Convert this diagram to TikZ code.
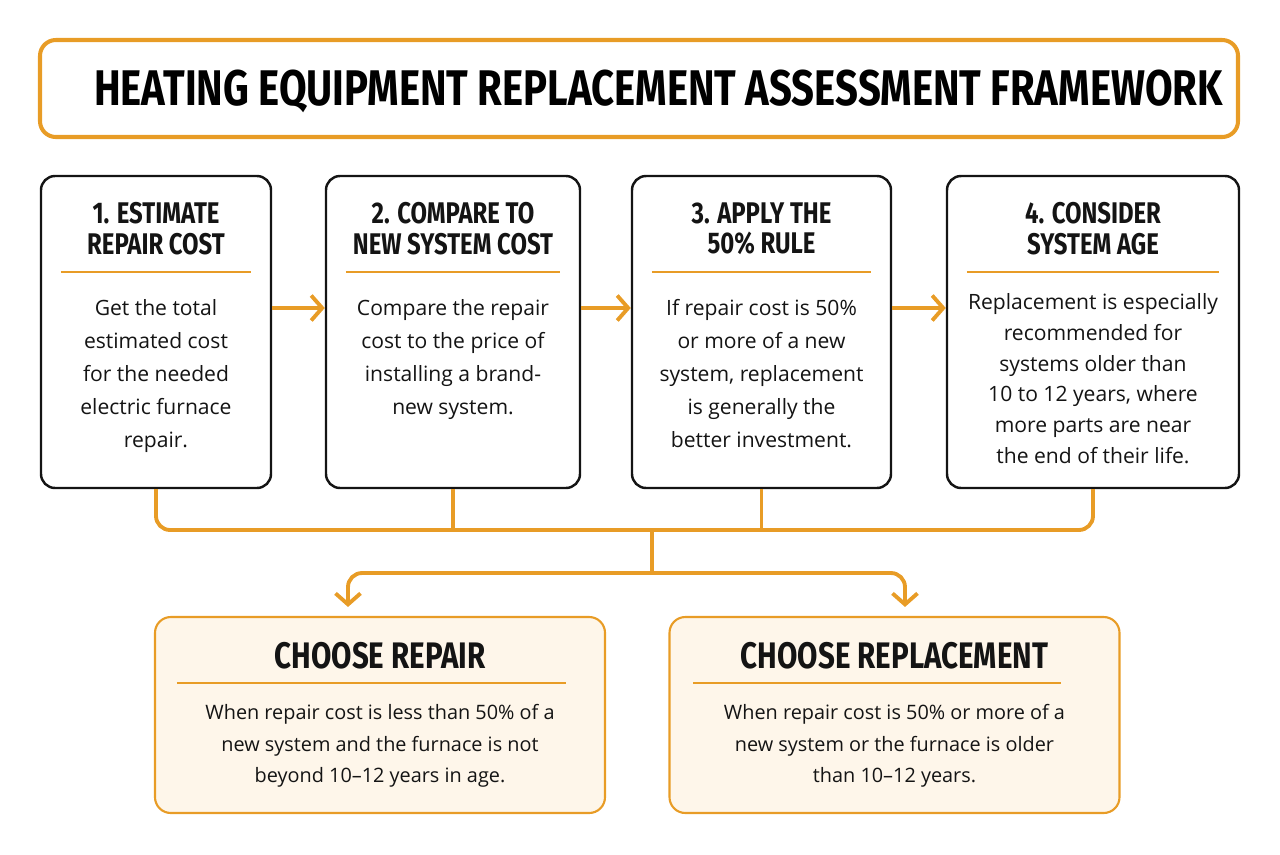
\documentclass[tikz,border=0pt]{standalone}
\usepackage{fontspec}
\usetikzlibrary{arrows.meta,positioning,calc}
\newfontfamily\headfont[FakeStretch=0.8]{Fira Sans}
\newfontfamily\bodyfont{Open Sans}
\definecolor{amber}{RGB}{232,156,38}
\definecolor{cream}{RGB}{254,246,234}
\definecolor{ink}{RGB}{20,20,20}

\begin{document}
\begin{tikzpicture}[
  titlebox/.style={draw=amber, line width=2.3pt, rounded corners=9pt,
                   minimum width=23.96cm, minimum height=1.94cm},
  stepbox/.style={draw=ink, line width=1.4pt, fill=white, rounded corners=8pt,
                  minimum height=6.24cm},
  choicebox/.style={draw=amber, line width=1.2pt, fill=cream, rounded corners=9pt,
                    minimum width=9cm, minimum height=3.92cm},
  headtxt/.style={font=\headfont\bfseries\fontsize{17}{17.6}\selectfont,
                  text=ink, align=center, inner sep=0pt},
  bodytxt/.style={font=\bodyfont\fontsize{12}{18.8}\selectfont,
                  text=ink, align=center, inner sep=0pt, anchor=north},
  divider/.style={draw=amber, line width=1.1pt},
  flow/.style={draw=amber, line width=2.2pt},
  >={Straight Barb[length=2.2mm,width=5mm]}
]
\useasboundingbox (0,0) rectangle (25.6,-17.08);

% title
\node[titlebox] (title) at (12.78,-1.77) {};
\node[font=\headfont\bfseries\fontsize{28.5}{30}\selectfont, text=black] (ttext)
  at (13.17,-1.82) {HEATING EQUIPMENT REPLACEMENT ASSESSMENT FRAMEWORK};

% the four steps
\node[stepbox, minimum width=4.6cm]  (s1) at (3.12,-6.64) {};
\node[stepbox, minimum width=5.08cm] (s2) at (9.06,-6.64) {};
\node[stepbox, minimum width=5.18cm] (s3) at (15.23,-6.64) {};
\node[stepbox, minimum width=5.84cm] (s4) at (21.86,-6.64) {};

\node[headtxt] (h1) at ([yshift=-1.08cm]s1.north) {1. ESTIMATE\\REPAIR COST};
\node[headtxt] (h2) at ([yshift=-1.08cm]s2.north) {2. COMPARE TO\\NEW SYSTEM COST};
\node[headtxt] (h3) at ([yshift=-1.08cm]s3.north) {3. APPLY THE\\50\% RULE};
\node[headtxt] (h4) at ([yshift=-1.08cm]s4.north) {4. CONSIDER\\SYSTEM AGE};

\foreach \s in {s1,s2,s3,s4}
  \draw[divider] ([xshift=0.42cm,yshift=-1.94cm]\s.north west)
              -- ([xshift=-0.42cm,yshift=-1.94cm]\s.north east);

\node[bodytxt] (b1) at ([yshift=-2.48cm]s1.north)
  {Get the total\\estimated cost\\for the needed\\electric furnace\\repair.};
\node[bodytxt] (b2) at ([yshift=-2.48cm]s2.north)
  {Compare the repair\\cost to the price of\\installing a brand-\\new system.};
\node[bodytxt] (b3) at ([yshift=-2.48cm]s3.north)
  {If repair cost is 50\%\\or more of a new\\system, replacement\\is generally the\\better investment.};
\node[bodytxt, font=\bodyfont\fontsize{12}{17.6}\selectfont] (b4) at ([yshift=-2.36cm]s4.north)
  {Replacement is especially\\recommended for\\systems older than\\10 to 12 years, where\\more parts are near\\the end of their life.};

% arrows between steps
\draw[flow, ->] (s1.east |- 0,-6.16) -- (s2.west |- 0,-6.16);
\draw[flow, ->] (s2.east |- 0,-6.16) -- (s3.west |- 0,-6.16);
\draw[flow, ->] (s3.east |- 0,-6.16) -- (s4.west |- 0,-6.16);

% two outcomes
\node[choicebox] (c1) at (7.6,-14.3) {};
\node[choicebox] (c2) at (17.89,-14.3) {};

\node[headtxt, font=\headfont\bfseries\fontsize{21}{23}\selectfont] (ch1)
  at ([yshift=-0.8cm]c1.north) {CHOOSE REPAIR};
\node[headtxt, font=\headfont\bfseries\fontsize{21}{23}\selectfont] (ch2)
  at ([yshift=-0.8cm]c2.north) {CHOOSE REPLACEMENT};

\draw[divider] ([xshift=0.46cm,yshift=-1.34cm]c1.north west)
            -- ([xshift=-0.8cm,yshift=-1.34cm]c1.north east);
\draw[divider] ([xshift=0.5cm,yshift=-1.34cm]c2.north west)
            -- ([xshift=-1.2cm,yshift=-1.34cm]c2.north east);

\node[bodytxt, font=\bodyfont\fontsize{11.3}{18}\selectfont] (cb1) at ([yshift=-1.76cm]c1.north)
  {When repair cost is less than 50\% of a\\new system and the furnace is not\\beyond 10–12 years in age.};
\node[bodytxt, font=\bodyfont\fontsize{11.3}{18}\selectfont] (cb2) at ([yshift=-1.76cm]c2.north)
  {When repair cost is 50\% or more of a\\new system or the furnace is older\\than 10–12 years.};

% collecting bus and split
\coordinate (bus) at (13.04,-10.6);
\coordinate (split) at (13.04,-11.46);
\draw[flow, rounded corners=8pt] (s1.south) |- (bus) -| (s4.south);
\draw[flow] (s2.south) -- (s2.south |- bus);
\draw[flow] (s3.south) -- (s3.south |- bus);
\draw[flow] (bus) -- (split);
\draw[flow, ->, rounded corners=8pt] (split) -| ([xshift=-6.4mm,yshift=1.8mm]c1.north);
\draw[flow, ->, rounded corners=8pt] (split) -| ([xshift=2.1mm,yshift=1.8mm]c2.north);
\end{tikzpicture}
\end{document}
